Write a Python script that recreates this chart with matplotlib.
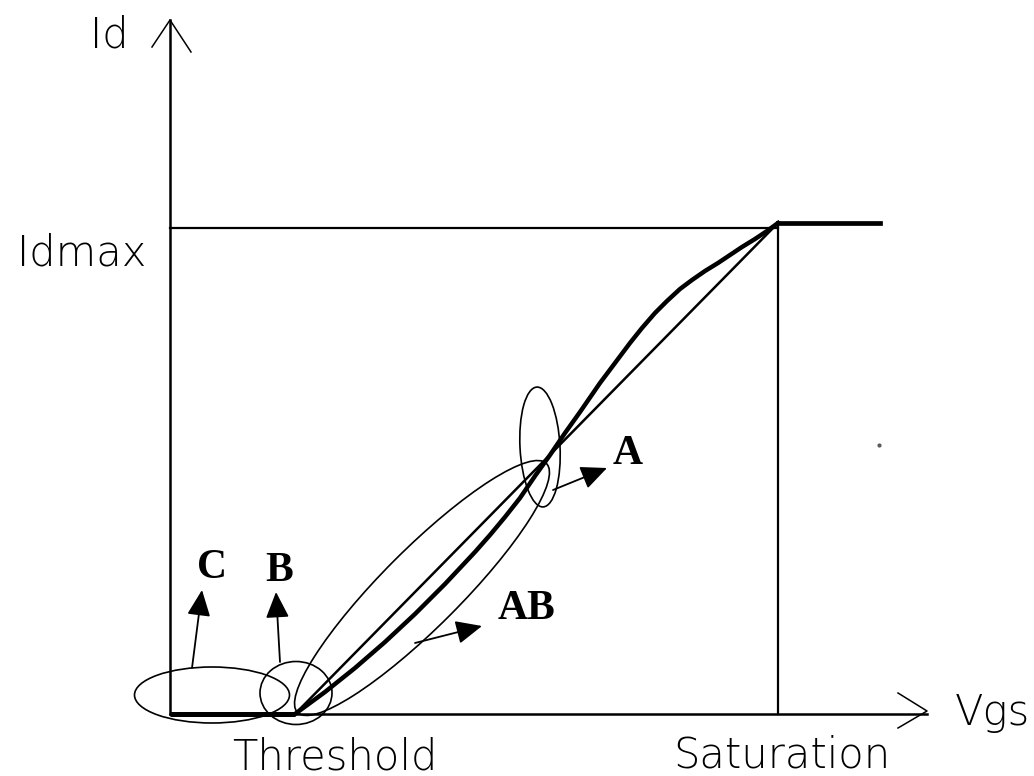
import matplotlib
matplotlib.use('Agg')
import matplotlib.pyplot as plt
from matplotlib.patches import Ellipse

# schematic Id-Vgs transfer curve (units ~ pixels from the origin)
threshold_vgs = 125
saturation_vgs = 608
id_max = 486
id_sat = 491
vgs_end = 710
vgs_axis_end = 757
id_axis_end = 694

# measured curve between threshold and saturation
curve_vgs = [125, 140, 155, 170, 185, 200, 215, 230, 245, 260, 275, 290,
             305, 320, 335, 350, 365, 380, 395, 410, 430, 445, 460, 472,
             485, 497, 510, 522, 535, 548, 560, 572, 585, 597, 608]
curve_id = [0, 11, 22, 34, 46, 59, 72, 86, 100, 115, 130, 146,
            162, 179, 197, 216, 238, 259, 281, 302, 331, 351, 371, 386,
            401, 413, 425, 434, 443, 451, 459, 467, 475, 483, 491]

# ideal linear response
linear_vgs = [threshold_vgs, saturation_vgs]
linear_id = [0, id_sat]

fig = plt.figure(figsize=(10.34, 7.76), dpi=100)
ax = fig.add_axes([0, 0, 1, 1])
ax.set_xlim(-170, 864)
ax.set_ylim(-62, 714)
ax.axis('off')

k = 'black'
# axes with open arrow heads
ax.plot([0, 0], [0, id_axis_end], color=k, lw=1.8)
ax.plot([-18, 0, 21], [667, id_axis_end, 662], color=k, lw=1.1)
ax.plot([0, vgs_axis_end], [0, 0], color=k, lw=1.8)
ax.plot([728, vgs_axis_end, 728], [21, 3, -14], color=k, lw=1.1)

# guide lines
ax.plot([0, saturation_vgs], [id_max, id_max], color=k, lw=1.6)
ax.plot([saturation_vgs, saturation_vgs], [0, id_sat], color=k, lw=1.6)

# transfer characteristic
ax.plot([0, threshold_vgs], [0, 0], color=k, lw=3.6, solid_capstyle='butt')
ax.plot(curve_vgs, curve_id, color=k, lw=3.2, solid_joinstyle='round')
ax.plot([saturation_vgs, vgs_end], [id_sat, id_sat], color=k, lw=3.4)
ax.plot(linear_vgs, linear_id, color=k, lw=1.8)

# region ellipses
ells = [((42, 19), 155, 56, 0),
        ((126, 21), 72, 63, 0),
        ((252, 126), 352, 78, 45),
        ((370, 267), 40, 120, 3)]
for c, w, h, a in ells:
    ax.add_patch(Ellipse(c, w, h, angle=a, fill=False, ec=k, lw=1.2))

# arrows
arrows = [((22, 46), (32, 124)),
          ((110, 52), (106, 122)),
          ((245, 71), (312, 88)),
          ((383, 224), (437, 246))]
for a, b in arrows:
    ax.annotate('', xy=b, xytext=a,
                arrowprops=dict(arrowstyle='-|>,head_length=1.0,head_width=0.45',
                                mutation_scale=16, color=k, lw=1.3,
                                shrinkA=0, shrinkB=0))

bold = dict(family='Liberation Serif', fontweight='bold', fontsize=30,
            ha='center', va='center')
ax.text(42, 146, 'C', **bold)
ax.text(109, 143, 'B', **bold)
ax.text(356, 105, 'AB', **bold)
ax.text(458, 260, 'A', **bold)

sans = dict(family='DejaVu Sans', fontweight='light', fontsize=30,
            ha='left', va='baseline')
ax.text(-80, 666, 'Id', **sans)
ax.text(-153, 449, 'Idmax', **sans)
ax.text(62, -55, 'Threshold', **sans)
ax.text(503, -53, 'Saturation', **sans)
ax.text(785, -11, 'Vgs', **sans)

# small speck in the original scan
ax.plot([709], [269], 'o', color='0.35', ms=2)

fig.savefig('out.png', dpi=100)
